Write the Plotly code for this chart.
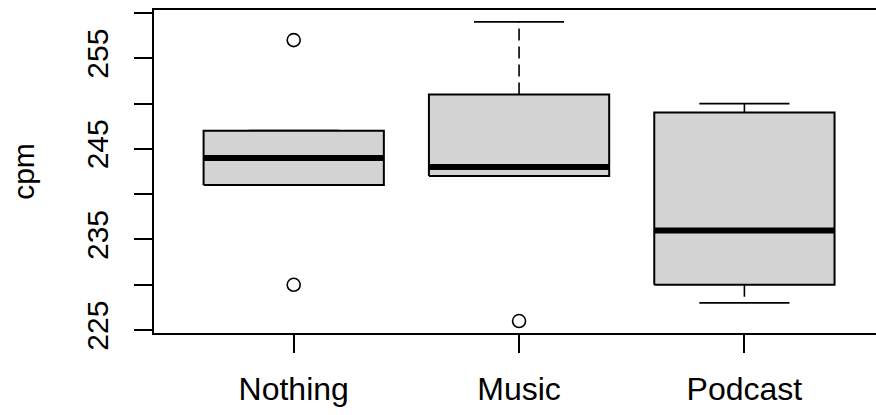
import numpy as np
import plotly.graph_objects as go

# Typing speed (cpm) recorded under three listening conditions
groups = ["Nothing", "Music", "Podcast"]
nothing_cpm = [230, 241, 244, 247, 257]
music_cpm = [226, 242, 243, 251, 259]
podcast_cpm = [228, 230, 236, 249, 250]
y_ticks = [225, 230, 235, 240, 245, 250, 255, 260]
y_tick_text = ["225", "", "235", "", "245", "", "255", ""]

samples = [nothing_cpm, music_cpm, podcast_cpm]

FONT = "Liberation Sans, Arial, sans-serif"
BOX_FILL = "#D3D3D3"
INK = "black"
HALF_BOX = 0.4      # box width 0.8 in category units
HALF_STAPLE = 0.2   # staple half as wide as the box


def fivenum(values):
    """Tukey five-number summary (min, lower hinge, median, upper hinge, max)."""
    x = np.sort(np.asarray(values, dtype=float))
    n = len(x)
    n4 = np.floor((n + 3) / 2) / 2
    d = np.array([1, n4, (n + 1) / 2, n + 1 - n4, n]) - 1
    return 0.5 * (x[np.floor(d).astype(int)] + x[np.ceil(d).astype(int)])


fig = go.Figure()

all_values = []
for pos, vals in enumerate(samples, start=1):
    arr = np.asarray(vals, dtype=float)
    all_values.extend(arr.tolist())
    _, q1, med, q3, _ = fivenum(arr)
    iqr = q3 - q1
    inside = arr[(arr >= q1 - 1.5 * iqr) & (arr <= q3 + 1.5 * iqr)]
    lo, hi = inside.min(), inside.max()
    outliers = arr[(arr < lo) | (arr > hi)]

    # dashed whiskers
    fig.add_trace(go.Scatter(
        x=[pos, pos, None, pos, pos], y=[q3, hi, None, q1, lo],
        mode="lines", line=dict(color=INK, width=1.6, dash="12px,6px"),
        hoverinfo="skip", showlegend=False))
    # staples
    fig.add_trace(go.Scatter(
        x=[pos - HALF_STAPLE, pos + HALF_STAPLE, None, pos - HALF_STAPLE, pos + HALF_STAPLE],
        y=[hi, hi, None, lo, lo],
        mode="lines", line=dict(color=INK, width=1.8),
        hoverinfo="skip", showlegend=False))
    # box body
    fig.add_trace(go.Scatter(
        x=[pos - HALF_BOX, pos + HALF_BOX, pos + HALF_BOX, pos - HALF_BOX, pos - HALF_BOX],
        y=[q1, q1, q3, q3, q1],
        mode="lines", fill="toself", fillcolor=BOX_FILL,
        line=dict(color=INK, width=2),
        hoverinfo="skip", showlegend=False))
    # median bar
    fig.add_trace(go.Scatter(
        x=[pos - HALF_BOX, pos + HALF_BOX], y=[med, med],
        mode="lines", line=dict(color=INK, width=6),
        hoverinfo="skip", showlegend=False))
    # outlying points
    if len(outliers):
        fig.add_trace(go.Scatter(
            x=[pos] * len(outliers), y=outliers.tolist(),
            mode="markers",
            marker=dict(symbol="circle-open", size=13, color=INK, line=dict(width=1.6)),
            hoverinfo="skip", showlegend=False))

# axis ranges padded 4% beyond the data, as in a base-graphics boxplot
y_min, y_max = min(all_values), max(all_values)
y_pad = 0.04 * (y_max - y_min)
x_lo = 0.5 - 0.04 * 3

fig.update_layout(
    width=876, height=415,
    margin=dict(l=154, r=0, t=10, b=82),
    paper_bgcolor="white", plot_bgcolor="white",
    font=dict(family=FONT, size=30, color="black"),
    xaxis=dict(
        range=[x_lo, 3.584],
        tickvals=[1, 2, 3], ticktext=groups,
        ticks="outside", ticklen=18, tickwidth=1.5, tickcolor=INK,
        ticklabelstandoff=9,
        showline=True, mirror=True, linecolor=INK, linewidth=1.5,
        showgrid=False, zeroline=False,
        tickfont=dict(family=FONT, size=32, color="black"),
    ),
    yaxis=dict(
        range=[y_min - y_pad, y_max + y_pad],
        tickvals=y_ticks, ticktext=y_tick_text,
        tickangle=-90,
        ticks="outside", ticklen=18, tickwidth=1.5, tickcolor=INK,
        ticklabelstandoff=14,
        showline=True, mirror=False, linecolor=INK, linewidth=1.5,
        showgrid=False, zeroline=False,
        tickfont=dict(family=FONT, size=30, color="black"),
        title=dict(text="cpm", standoff=38, font=dict(family=FONT, size=30, color="black")),
    ),
)

fig.write_html("out.html")
